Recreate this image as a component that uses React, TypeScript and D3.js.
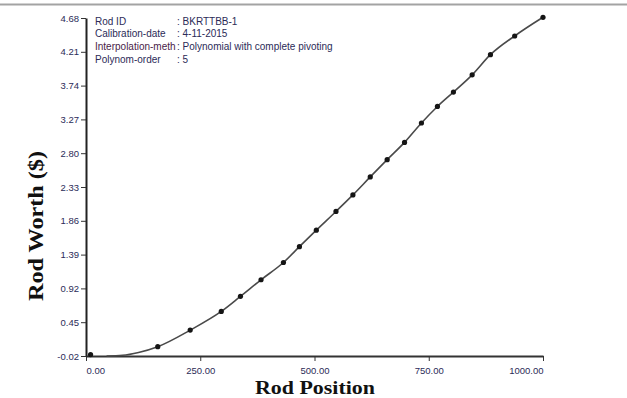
import React, { useEffect, useRef } from 'react';
import * as d3 from 'd3';

// measured calibration points (rod position, worth in $)
const positions = [10, 157, 228, 296, 338, 383, 432, 467, 504, 547, 584, 622, 659, 697, 734, 769, 804, 845, 885, 938, 1000];
const worths = [0.0, 0.11, 0.34, 0.6, 0.81, 1.04, 1.28, 1.5, 1.73, 1.99, 2.22, 2.47, 2.71, 2.95, 3.22, 3.45, 3.65, 3.89, 4.17, 4.43, 4.69];

// where the fitted polynomial leaves the axis
const fitStartX = [45, 80, 115];
const fitStartY = [-0.02, -0.01, 0.03];

const xTicks = [0, 250, 500, 750, 1000];
const yTicks = [-0.02, 0.45, 0.92, 1.39, 1.86, 2.33, 2.8, 3.27, 3.74, 4.21, 4.68];

const infoLabels = ['Rod ID', 'Calibration-date', 'Interpolation-meth', 'Polynom-order'];
const infoValues = ['BKRTTBB-1', '4-11-2015', 'Polynomial with complete pivoting', '5'];

// plain hyphen for negatives, like the original
const fmt = (d: any) => Number(d).toFixed(2);

function RodWorthChart() {
  const svgRef = useRef<SVGSVGElement>(null);

  useEffect(() => {
    const svg = d3.select(svgRef.current);
    svg.selectAll('*').remove();

    const width = 627;
    const height = 398;
    const margin = { top: 18, right: 84, bottom: 42, left: 86 };
    const labelFont = '"Liberation Sans", Arial, sans-serif';
    const titleFont = '"Liberation Serif", "Times New Roman", serif';
    const labelColor = '#2b2b57';

    svg.attr('width', width).attr('height', height);

    // grey rule across the top
    svg.append('line')
      .attr('x1', 0).attr('x2', width)
      .attr('y1', 4.5).attr('y2', 4.5)
      .attr('stroke', '#a3a3a3')
      .attr('stroke-width', 2);

    const x = d3.scaleLinear()
      .domain([0, 1000])
      .range([margin.left, width - margin.right]);

    const y = d3.scaleLinear()
      .domain([-0.02, 4.68])
      .range([height - margin.bottom, margin.top]);

    const xAxis = svg.append('g')
      .attr('transform', `translate(0,${height - margin.bottom})`)
      .call(d3.axisBottom(x).tickValues(xTicks).tickSize(5).tickSizeOuter(0).tickFormat(fmt));
    xAxis.select('.domain').attr('stroke', '#333').attr('stroke-width', 2);
    xAxis.selectAll('.tick line').attr('stroke', '#333');
    xAxis.selectAll('text')
      .attr('fill', labelColor)
      .style('font-family', labelFont)
      .style('font-size', '9.5px')
      .attr('dy', '1.0em')
      .attr('text-anchor', (d: any) => (d === 0 ? 'start' : d === 1000 ? 'end' : 'middle'));

    const yAxis = svg.append('g')
      .attr('transform', `translate(${margin.left},0)`)
      .call(d3.axisLeft(y).tickValues(yTicks).tickSize(5).tickSizeOuter(0).tickFormat(fmt));
    yAxis.select('.domain').attr('stroke', '#222').attr('stroke-width', 2);
    yAxis.selectAll('.tick line').attr('stroke', '#333');
    yAxis.selectAll('text')
      .attr('fill', labelColor)
      .style('font-family', labelFont)
      .style('font-size', '9.5px')
      .attr('x', -7);

    // fitted curve
    const curvePts: [number, number][] = fitStartX.map((v, i) => [v, fitStartY[i]] as [number, number])
      .concat(positions.slice(1).map((v, i) => [v, worths[i + 1]] as [number, number]));

    const line = d3.line<[number, number]>()
      .x((d) => x(d[0]))
      .y((d) => y(d[1]))
      .curve(d3.curveMonotoneX);

    svg.append('path')
      .datum(curvePts)
      .attr('d', line)
      .attr('fill', 'none')
      .attr('stroke', '#4a4a4a')
      .attr('stroke-width', 1.6);

    svg.selectAll('.pt')
      .data(positions)
      .enter()
      .append('circle')
      .attr('class', 'pt')
      .attr('cx', (d) => x(d))
      .attr('cy', (d, i) => y(worths[i]))
      .attr('r', 2.6)
      .attr('fill', '#151515');

    // info block
    const info = svg.append('g')
      .style('font-family', labelFont)
      .style('font-size', '10px');
    infoLabels.forEach((lab, i) => {
      const yy = 24.5 + i * 12.8;
      const col = i === 2 ? '#4a2348' : labelColor;
      info.append('text').attr('x', 95).attr('y', yy).attr('fill', col).text(lab);
      info.append('text').attr('x', 177).attr('y', yy).attr('fill', labelColor).text(`: ${infoValues[i]}`);
    });

    svg.append('text')
      .attr('x', 315)
      .attr('y', 393.5)
      .attr('text-anchor', 'middle')
      .attr('textLength', 120)
      .attr('lengthAdjust', 'spacingAndGlyphs')
      .style('font-family', titleFont)
      .style('font-weight', 'bold')
      .style('font-size', '19px')
      .attr('fill', '#111')
      .text('Rod Position');

    svg.append('text')
      .attr('transform', 'translate(43,226) rotate(-90)')
      .attr('text-anchor', 'middle')
      .attr('textLength', 150)
      .attr('lengthAdjust', 'spacingAndGlyphs')
      .style('font-family', titleFont)
      .style('font-weight', 'bold')
      .style('font-size', '20px')
      .attr('fill', '#111')
      .text('Rod Worth ($)');
  }, []);

  return <svg ref={svgRef} style={{ display: 'block' }}></svg>;
}

export default function App() {
  return (
    <div style={{ position: 'absolute', top: 0, left: 0, width: 627, height: 398, background: '#fff' }}>
      <RodWorthChart />
    </div>
  );
}
